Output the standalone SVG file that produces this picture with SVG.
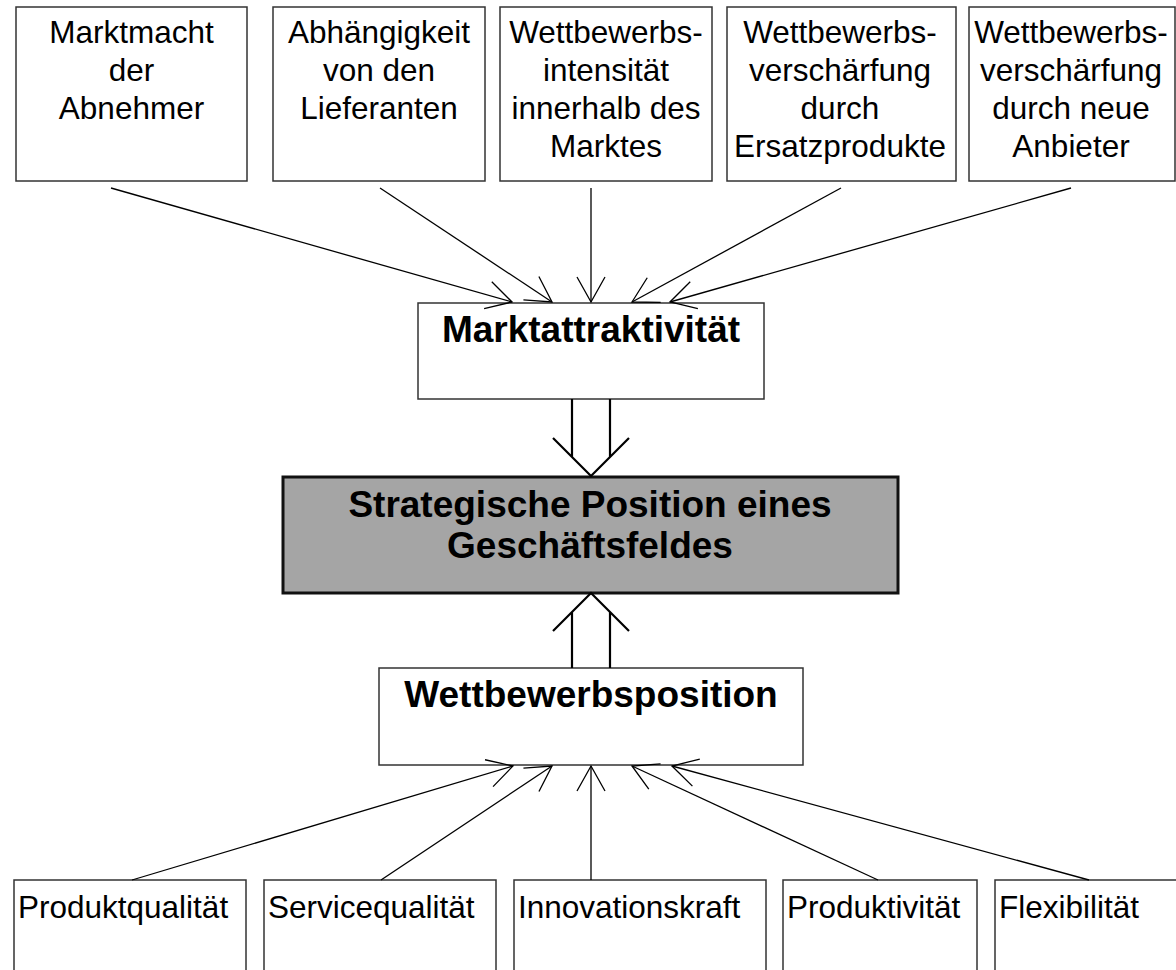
<svg xmlns="http://www.w3.org/2000/svg" width="1176" height="970" viewBox="0 0 1176 970">
<defs>
<style>
.box{fill:#fff;stroke:#333;stroke-width:1.5}
.main{fill:#a5a5a5;stroke:#111;stroke-width:3}
.t{font-family:"Liberation Sans",Arial,sans-serif;font-size:31.5px;fill:#000}
.c{text-anchor:middle}
.b{font-family:"Liberation Sans",Arial,sans-serif;font-size:37px;font-weight:bold;fill:#000;text-anchor:middle}
.ln{stroke:#000;stroke-width:1.3;fill:none}
.dbl{stroke:#000;stroke-width:2.2;fill:none}
</style>
<marker id="ah" markerUnits="userSpaceOnUse" markerWidth="40" markerHeight="40" refX="0" refY="0" viewBox="-30 -20 40 40" orient="auto" overflow="visible">
<path d="M-25,-14 L0,0 L-25,14" fill="none" stroke="#000" stroke-width="1.3"/>
</marker>
</defs>
<rect width="1176" height="970" fill="#fff"/>

<g id="n-abnehmer">
<rect class="box" x="16" y="7" width="231" height="174"/>
<text class="t c" x="131.5"><tspan x="131.5" y="43">Marktmacht</tspan><tspan x="131.5" y="81">der</tspan><tspan x="131.5" y="119">Abnehmer</tspan></text>
</g>
<g id="n-lieferanten">
<rect class="box" x="273" y="7" width="212" height="174"/>
<text class="t c"><tspan x="379" y="43">Abhängigkeit</tspan><tspan x="379" y="81">von den</tspan><tspan x="379" y="119">Lieferanten</tspan></text>
</g>
<g id="n-intensitaet">
<rect class="box" x="500" y="7" width="212" height="174"/>
<text class="t c"><tspan x="606" y="43">Wettbewerbs-</tspan><tspan x="606" y="81">intensität</tspan><tspan x="606" y="119">innerhalb des</tspan><tspan x="606" y="157">Marktes</tspan></text>
</g>
<g id="n-ersatz">
<rect class="box" x="727" y="7" width="229" height="174"/>
<text class="t c"><tspan x="840" y="43">Wettbewerbs-</tspan><tspan x="840" y="81">verschärfung</tspan><tspan x="840" y="119">durch</tspan><tspan x="840" y="157">Ersatzprodukte</tspan></text>
</g>
<g id="n-anbieter">
<rect class="box" x="969" y="7" width="206" height="174"/>
<text class="t c"><tspan x="1071" y="43">Wettbewerbs-</tspan><tspan x="1071" y="81">verschärfung</tspan><tspan x="1071" y="119">durch neue</tspan><tspan x="1071" y="157">Anbieter</tspan></text>
</g>

<g id="n-marktattraktivitaet">
<rect class="box" x="418" y="303" width="346" height="96"/>
<text class="b" x="591" y="342">Marktattraktivität</text>
</g>

<g id="n-strategische-position">
<rect class="main" x="283" y="477" width="615" height="116"/>
<text class="b"><tspan x="590" y="517">Strategische Position eines</tspan><tspan x="590" y="558">Geschäftsfeldes</tspan></text>
</g>

<g id="n-wettbewerbsposition">
<rect class="box" x="379" y="668" width="424" height="97"/>
<text class="b" x="591" y="707">Wettbewerbsposition</text>
</g>

<g id="n-produktqualitaet">
<rect class="box" x="14" y="880" width="232" height="100"/>
<text class="t" x="18" y="918">Produktqualität</text>
</g>
<g id="n-servicequalitaet">
<rect class="box" x="264" y="880" width="232" height="100"/>
<text class="t" x="268" y="918">Servicequalität</text>
</g>
<g id="n-innovationskraft">
<rect class="box" x="514" y="880" width="252" height="100"/>
<text class="t" x="518" y="918">Innovationskraft</text>
</g>
<g id="n-produktivitaet">
<rect class="box" x="783" y="880" width="194" height="100"/>
<text class="t" x="787" y="918">Produktivität</text>
</g>
<g id="n-flexibilitaet">
<rect class="box" x="995" y="880" width="185" height="100"/>
<text class="t" x="999" y="918">Flexibilität</text>
</g>

<g id="connectors">
<line class="ln" x1="111" y1="188" x2="512" y2="302" marker-end="url(#ah)"/>
<line class="ln" x1="380" y1="188" x2="552" y2="302" marker-end="url(#ah)"/>
<line class="ln" x1="591" y1="188" x2="591" y2="302" marker-end="url(#ah)"/>
<line class="ln" x1="841" y1="188" x2="632" y2="302" marker-end="url(#ah)"/>
<line class="ln" x1="1071" y1="188" x2="670" y2="302" marker-end="url(#ah)"/>

<path class="dbl" d="M572,399 V457 M610,399 V457 M553,438 L591,476 L629,438"/>
<path class="dbl" d="M572,668 V612 M610,668 V612 M553,631 L591,593 L629,631"/>

<line class="ln" x1="132" y1="880" x2="513" y2="766" marker-end="url(#ah)"/>
<line class="ln" x1="381" y1="880" x2="552" y2="766" marker-end="url(#ah)"/>
<line class="ln" x1="591" y1="880" x2="591" y2="766" marker-end="url(#ah)"/>
<line class="ln" x1="878" y1="880" x2="632" y2="766" marker-end="url(#ah)"/>
<line class="ln" x1="1089" y1="880" x2="672" y2="766" marker-end="url(#ah)"/>
</g>
</svg>
